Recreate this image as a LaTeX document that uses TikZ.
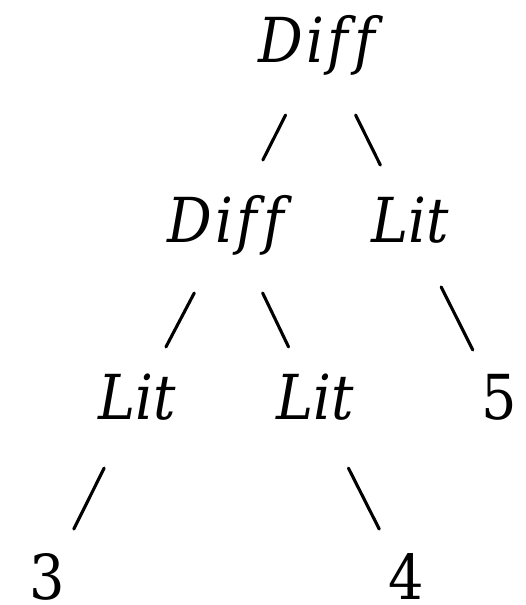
\documentclass[tikz,border=0pt]{standalone}
\usepackage{fontspec}
\setmainfont[Ligatures=NoCommon]{DejaVu Serif Condensed}
\usetikzlibrary{calc}
\newcommand{\diffword}{\textit{D\kern3pt i\kern4pt f\kern6pt f}}
\tikzset{
  lbl/.style={inner sep=0pt, anchor=base, font=\fontsize{62}{70}\selectfont},
  ctor/.style={line width=3.1pt, line cap=round}
}
\begin{document}
\begin{tikzpicture}[x=1pt,y=-1pt]
\useasboundingbox (0,0) rectangle (525,605);
\node[lbl] (root) at (321,62) {\diffword};
\node[lbl] (d2) at (230,242) {\diffword};
\node[lbl] (l2) at (410,242) {\textit{Lit}};
\node[lbl] (l3a) at (137,419) {\textit{Lit}};
\node[lbl] (l3b) at (315,419) {\textit{Lit}};
\node[lbl] (n5) at (499,419) {5};
\node[lbl] (n3) at (47.5,599) {3};
\node[lbl] (n4) at (406,599) {4};
\coordinate (croot) at ($(root.base)+(0,-17)$);
\coordinate (cd2) at ($(d2.base)+(0,-17)$);
\coordinate (cl2) at ($(l2.base)+(0,-17)$);
\coordinate (cl3a) at ($(l3a.base)+(0,-17)$);
\coordinate (cl3b) at ($(l3b.base)+(0,-17)$);
\coordinate (c5) at ($(n5.base)+(0,-17)$);
\coordinate (c3) at ($(n3.base)+(0,-17)$);
\coordinate (c4) at ($(n4.base)+(0,-17)$);
\draw[ctor] ($(croot)!0.389!(cd2)$) -- ($(croot)!0.639!(cd2)$);
\draw[ctor] ($(croot)!0.389!(cl2)$) -- ($(croot)!0.667!(cl2)$);
\draw[ctor] ($(cd2)!0.384!(cl3a)$) -- ($(cd2)!0.689!(cl3a)$);
\draw[ctor] ($(cd2)!0.384!(cl3b)$) -- ($(cd2)!0.689!(cl3b)$);
\draw[ctor] ($(cl2)!0.350!(c5)$) -- ($(cl2)!0.706!(c5)$);
\draw[ctor] ($(cl3a)!0.367!(c3)$) -- ($(cl3a)!0.706!(c3)$);
\draw[ctor] ($(cl3b)!0.367!(c4)$) -- ($(cl3b)!0.706!(c4)$);
\end{tikzpicture}
\end{document}
